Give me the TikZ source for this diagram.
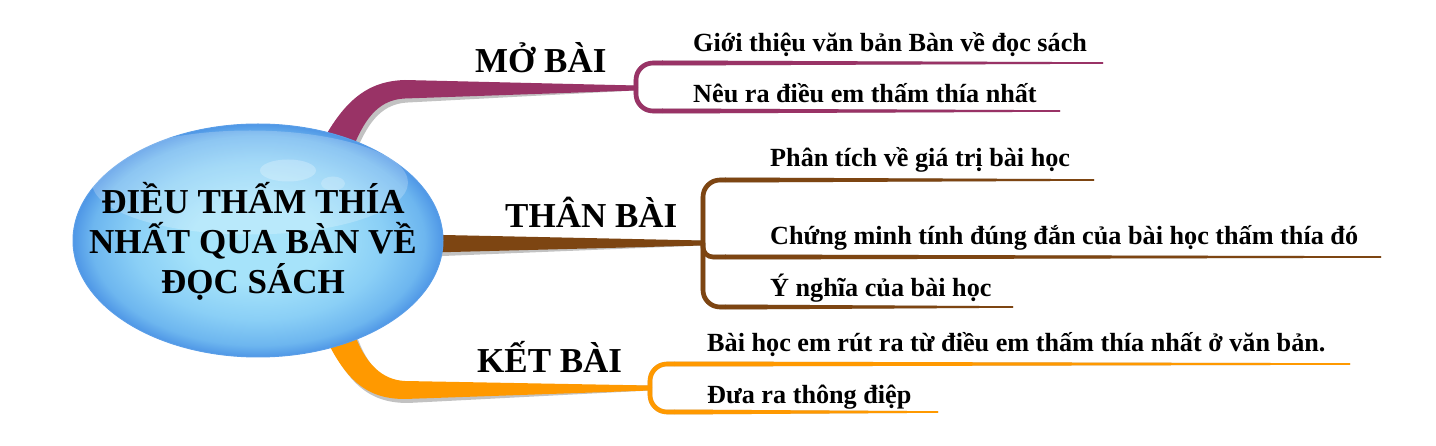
\documentclass[tikz,border=0pt]{standalone}
\usepackage{fontspec}
\setmainfont{Liberation Serif}
\usetikzlibrary{calc,shapes.geometric}
\definecolor{mo}{HTML}{993366}
\definecolor{than}{HTML}{7D4512}
\definecolor{ket}{HTML}{FF9900}
\definecolor{shd}{HTML}{C2C2C2}
\definecolor{ballin}{HTML}{A6E3FA}
\definecolor{ballmid}{HTML}{8ACFF6}
\definecolor{balledge}{HTML}{6DB6EF}
\definecolor{ballout}{HTML}{4F97E6}
\definecolor{ballrim}{HTML}{5A9EE8}
\pgfdeclareradialshading{ballshade}{\pgfpoint{0bp}{0bp}}{%
  color(0bp)=(ballin); color(9bp)=(ballin); color(17bp)=(ballmid);
  color(22.5bp)=(balledge); color(25bp)=(ballout); color(50bp)=(ballout)}
\begin{document}
\begin{tikzpicture}[x=1pt,y=-1pt,
  lbl/.style={font=\fontsize{35}{40}\selectfont\bfseries, inner sep=0pt, anchor=base west},
  itm/.style={font=\fontsize{26.2}{30}\selectfont\bfseries, inner sep=0pt, anchor=base west},
  brk/.style={line width=4.6pt, rounded corners=#1},
  brk/.default=17pt,
  shadow/.style={shift={(3,4)}}]
\useasboundingbox (0,0) rectangle (1436,446);

% ---------- coordinates ----------
\coordinate (mj) at (636,88);
\coordinate (tj) at (703,243);
\coordinate (kj) at (650,388);
\coordinate (m1s) at (662,63);  \coordinate (m1e) at (1103,63);
\coordinate (m2s) at (662,111); \coordinate (m2e) at (1060,111);
\coordinate (t1s) at (725,180); \coordinate (t1e) at (1094,180);
\coordinate (t2s) at (725,257); \coordinate (t2e) at (1381,257);
\coordinate (t3s) at (725,307); \coordinate (t3e) at (1013,307);
\coordinate (k1s) at (674,364); \coordinate (k1e) at (1350,364);
\coordinate (k2s) at (674,412); \coordinate (k2e) at (938,412);

\def\mopath{(322,142) .. controls (345,100) and (368,81) .. (405,80) -- ($(mj)+(0,-2.5)$) -- ($(mj)+(0,2.5)$) -- (405,98.5) .. controls (381,99.5) and (366,115) .. (353,148) -- cycle}
\def\thanpath{(420,234.5) -- ($(tj)+(0,-2.5)$) -- ($(tj)+(0,2.5)$) -- (420,252.8) -- cycle}
\def\ketpath{(322,330) .. controls (345,382) and (368,399) .. (405,399) -- ($(kj)+(0,2.5)$) -- ($(kj)+(0,-2.5)$) -- (405,381) .. controls (383,380) and (365,365) .. (353,330) -- cycle}

% ---------- shadows ----------
\begin{scope}[shadow]
  \fill[shd] \mopath;
  \fill[shd] \thanpath;
  \fill[shd] \ketpath;
  \draw[shd, brk] (mj) |- (m1s);
  \draw[shd, brk] (mj) |- (m2s);
  \draw[shd, brk] (tj) |- (t1s);
  \draw[shd, brk=10pt] (tj) |- (t2s);
  \draw[shd, brk] (tj) |- (t3s);
  \draw[shd, brk] (kj) |- (k1s);
  \draw[shd, brk] (kj) |- (k2s);
  \foreach \a/\b in {m1s/m1e,m2s/m2e,t1s/t1e,t2s/t2e,t3s/t3e,k1s/k1e,k2s/k2e}{
    \fill[shd] ($(\a)+(0,-2.5)$) -- ($(\b)+(0,-0.8)$) -- ($(\b)+(0,0.8)$) -- ($(\a)+(0,2.5)$) -- cycle;}
\end{scope}

% ---------- coloured branches ----------
\fill[mo] \mopath;
\fill[than] \thanpath;
\fill[ket] \ketpath;
\draw[mo, brk] (mj) |- (m1s);
\draw[mo, brk] (mj) |- (m2s);
\draw[than, brk] (tj) |- (t1s);
\draw[than, brk=10pt] (tj) |- (t2s);
\draw[than, brk] (tj) |- (t3s);
\draw[ket, brk] (kj) |- (k1s);
\draw[ket, brk] (kj) |- (k2s);
\foreach \a/\b/\c in {m1s/m1e/mo,m2s/m2e/mo,t1s/t1e/than,t2s/t2e/than,t3s/t3e/than,k1s/k1e/ket,k2s/k2e/ket}{
  \fill[\c] ($(\a)+(0,-2.5)$) -- ($(\b)+(0,-0.8)$) -- ($(\b)+(0,0.8)$) -- ($(\a)+(0,2.5)$) -- cycle;}

% ---------- central ellipse ----------
\node[ellipse, minimum width=370pt, minimum height=233pt, inner sep=0pt,
      shading=ballshade, draw=ballrim, line width=1pt] (core) at (258,240.5) {};
\fill[white, opacity=0.22] ($(core.center)+(-8,-58)$) ellipse [x radius=158pt, y radius=52pt];
\fill[white, opacity=0.25] ($(core.center)+(30,-70)$) ellipse [x radius=28pt, y radius=11pt];
\fill[white, opacity=0.22] ($(core.center)+(75,-57)$) ellipse [x radius=12pt, y radius=7pt];
\node[font=\fontsize{35}{40}\selectfont\bfseries, align=center, inner sep=0pt] (title) at (253,241)
  {ĐIỀU THẤM THÍA\\NHẤT QUA BÀN VỀ\\ĐỌC SÁCH};

% ---------- labels ----------
\node[lbl] (mo) at (475,73) {MỞ BÀI};
\node[lbl] (than) at (505,228) {THÂN BÀI};
\node[lbl] (ket) at (477,373) {KẾT BÀI};

\node[itm] (m1) at (693,52) {Giới thiệu văn bản Bàn về đọc sách};
\node[itm] (m2) at (693,103) {Nêu ra điều em thấm thía nhất};
\node[itm] (t1) at (770,167) {Phân tích về giá trị bài học};
\node[itm] (t2) at (770,245) {Chứng minh tính đúng đắn của bài học thấm thía đó};
\node[itm] (t3) at (770,297) {Ý nghĩa của bài học};
\node[itm] (k1) at (707,352) {Bài học em rút ra từ điều em thấm thía nhất ở văn bản.};
\node[itm] (k2) at (707,403) {Đưa ra thông điệp};
\end{tikzpicture}
\end{document}
